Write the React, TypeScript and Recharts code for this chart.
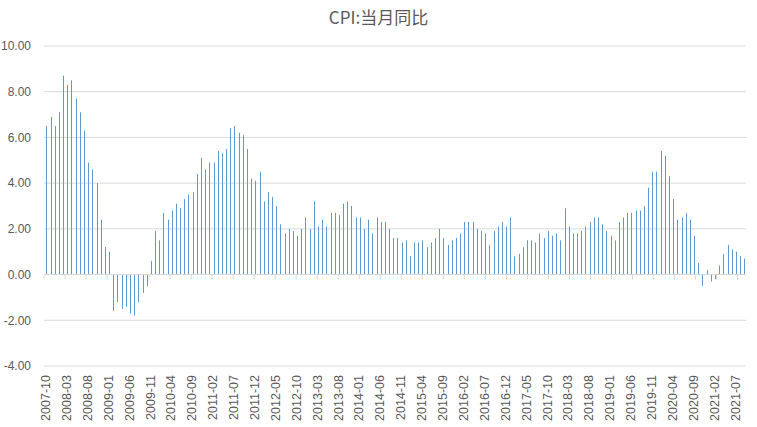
import React from 'react';
import { BarChart, Bar, XAxis, YAxis, CartesianGrid, ReferenceLine } from 'recharts';

const TITLE = 'CPI:当月同比';
const START_YEAR = 2007;
const START_MONTH = 10;

// CPI year-on-year, monthly, 2007-10 .. 2021-09
const cpiYoY: number[] = [
  // 2007 (Oct-Dec)
  6.5, 6.9, 6.5,
  // 2008
  7.1, 8.7, 8.3, 8.5, 7.7, 7.1, 6.3, 4.9, 4.6, 4.0, 2.4, 1.2,
  // 2009
  1.0, -1.6, -1.2, -1.5, -1.4, -1.7, -1.8, -1.2, -0.8, -0.5, 0.6, 1.9,
  // 2010
  1.5, 2.7, 2.4, 2.8, 3.1, 2.9, 3.3, 3.5, 3.6, 4.4, 5.1, 4.6,
  // 2011
  4.9, 4.9, 5.4, 5.3, 5.5, 6.4, 6.5, 6.2, 6.1, 5.5, 4.2, 4.1,
  // 2012
  4.5, 3.2, 3.6, 3.4, 3.0, 2.2, 1.8, 2.0, 1.9, 1.7, 2.0, 2.5,
  // 2013
  2.0, 3.2, 2.1, 2.4, 2.1, 2.7, 2.7, 2.6, 3.1, 3.2, 3.0, 2.5,
  // 2014
  2.5, 2.0, 2.4, 1.8, 2.5, 2.3, 2.3, 2.0, 1.6, 1.6, 1.4, 1.5,
  // 2015
  0.8, 1.4, 1.4, 1.5, 1.2, 1.4, 1.6, 2.0, 1.6, 1.3, 1.5, 1.6,
  // 2016
  1.8, 2.3, 2.3, 2.3, 2.0, 1.9, 1.8, 1.3, 1.9, 2.1, 2.3, 2.1,
  // 2017
  2.5, 0.8, 0.9, 1.2, 1.5, 1.5, 1.4, 1.8, 1.6, 1.9, 1.7, 1.8,
  // 2018
  1.5, 2.9, 2.1, 1.8, 1.8, 1.9, 2.1, 2.3, 2.5, 2.5, 2.2, 1.9,
  // 2019
  1.7, 1.5, 2.3, 2.5, 2.7, 2.7, 2.8, 2.8, 3.0, 3.8, 4.5, 4.5,
  // 2020
  5.4, 5.2, 4.3, 3.3, 2.4, 2.5, 2.7, 2.4, 1.7, 0.5, -0.5, 0.2,
  // 2021 (Jan-Sep)
  -0.3, -0.2, 0.4, 0.9, 1.3, 1.1, 1.0, 0.8, 0.7,
];

const categories: string[] = cpiYoY.map((_, i) => {
  const m = START_MONTH - 1 + i;
  const y = START_YEAR + Math.floor(m / 12);
  const mm = (m % 12) + 1;
  return `${y}-${String(mm).padStart(2, '0')}`;
});

const yTicks: number[] = [-4, -2, 0, 2, 4, 6, 8, 10];
const LABEL_EVERY = 5;
const tickBoundaries: number[] = categories
  .map((_, i) => i)
  .filter((i) => i % LABEL_EVERY === 0);

const data = categories.map((month, i) => ({ month, value: cpiYoY[i] }));

const TEXT = '#595959';
const GRID = '#d9d9d9';
const BAR = '#5B9BD5';
const FONT = '"Liberation Sans", Arial, sans-serif';

const XTick = (props: any) => {
  const { x, y, payload } = props;
  return (
    <text
      transform={`translate(${x},${y + 1}) rotate(-90)`}
      textAnchor="end"
      dominantBaseline="central"
      fontSize={12.5}
      fill={TEXT}
      fontFamily={FONT}
    >
      {payload.value}
    </text>
  );
};

const renderBar = (props: any) => {
  const x = Number(props.x);
  const y = Number(props.y);
  const w = Number(props.width);
  const h = Number(props.height);
  if (!isFinite(x) || !isFinite(y) || !isFinite(w) || !isFinite(h)) return <g />;
  const x0 = Math.round(x);
  const x1 = Math.max(x0 + 1, Math.round(x + w));
  const top = h < 0 ? y + h : y;
  return <rect x={x0} y={top} width={x1 - x0} height={Math.abs(h)} fill={BAR} />;
};

export default function App() {
  return (
    <div style={{ position: 'absolute', left: 0, top: 0, width: 757, height: 427, background: '#fff' }}>
      <div
        style={{
          position: 'absolute',
          left: 0,
          top: 6,
          width: 757,
          textAlign: 'center',
          fontSize: 17,
          lineHeight: '22px',
          color: TEXT,
          fontFamily: '"Noto Sans CJK SC", sans-serif',
        }}
      >
        {TITLE}
      </div>
      <BarChart
        width={757}
        height={427}
        data={data}
        margin={{ top: 46, right: 11, bottom: 0, left: 0 }}
        barCategoryGap="58%"
        style={{ fontFamily: FONT }}
      >
        <CartesianGrid vertical={false} stroke={GRID} strokeWidth={1} />
        <XAxis
          dataKey="month"
          height={61}
          interval={LABEL_EVERY - 1}
          tickLine={false}
          axisLine={false}
          tick={<XTick />}
        />
        <XAxis xAxisId="num" type="number" domain={[0, categories.length]} hide />
        <YAxis
          width={44}
          domain={[-4, 10]}
          ticks={yTicks}
          interval={0}
          axisLine={false}
          tickLine={false}
          tickMargin={7}
          tickFormatter={(v: number) => v.toFixed(2)}
          tick={{ fontSize: 12, fill: TEXT, fontFamily: FONT }}
        />
        <Bar dataKey="value" fill={BAR} isAnimationActive={false} shape={renderBar} />
        <ReferenceLine y={0} stroke={GRID} />
        {tickBoundaries.map((b) => (
          <ReferenceLine
            key={b}
            xAxisId="num"
            segment={[{ x: b, y: 0 }, { x: b, y: -0.22 }]}
            stroke={GRID}
          />
        ))}
      </BarChart>
    </div>
  );
}
